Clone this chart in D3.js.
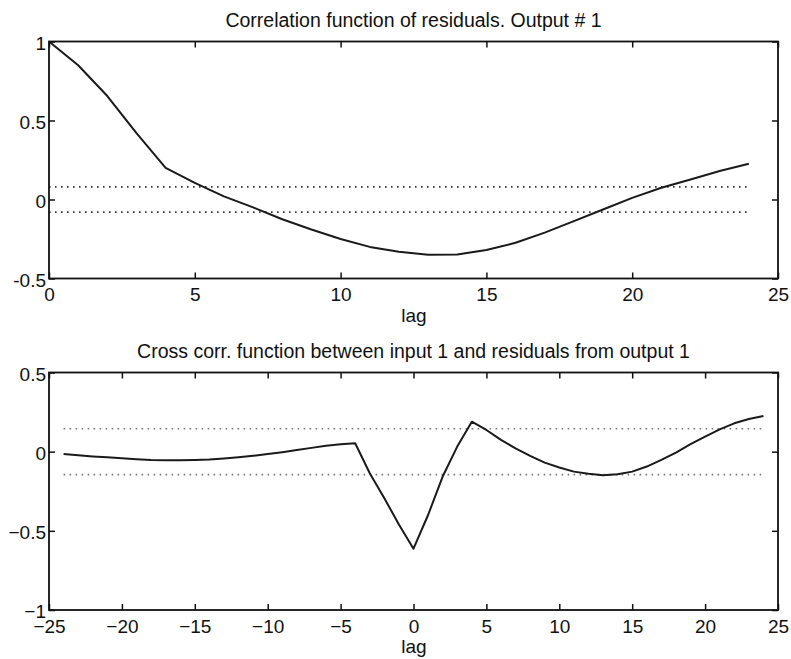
<!DOCTYPE html>
<html>
<head>
<meta charset="utf-8">
<script src="https://cdn.jsdelivr.net/npm/d3@7"></script>
<style>
  html, body { margin: 0; padding: 0; background: #fff; }
  svg { display: block; }
  text { font-family: "Liberation Sans", Arial, Helvetica, sans-serif; fill: #111; }
</style>
</head>
<body>
<svg id="chart" width="791" height="659"></svg>
<script>
// ---- Data ----
const autoTitle = "Correlation function of residuals. Output # 1";
const crossTitle = "Cross corr. function between input 1 and residuals from output 1";
const xLabel = "lag";

const autoLags = [0,1,2,3,4,5,6,7,8,9,10,11,12,13,14,15,16,17,18,19,20,21,22,23,24];
const autoValues = [1.0,0.85,0.655,0.42,0.2,0.105,0.02,-0.05,-0.125,-0.19,-0.25,-0.3,-0.33,-0.35,-0.348,-0.32,-0.274,-0.21,-0.137,-0.063,0.01,0.074,0.127,0.18,0.226];
const autoConf = 0.08;
const autoXTicks = [0,5,10,15,20,25];
const autoYTicks = [-0.5,0,0.5,1];
const autoYTickLabels = ["-0.5","0","0.5","1"];

const crossLags = [-24,-23,-22,-21,-20,-19,-18,-17,-16,-15,-14,-13,-12,-11,-10,-9,-8,-7,-6,-5,-4,-3,-2,-1,0,1,2,3,4,5,6,7,8,9,10,11,12,13,14,15,16,17,18,19,20,21,22,23,24];
const crossValues = [-0.015,-0.022,-0.03,-0.036,-0.042,-0.048,-0.053,-0.054,-0.054,-0.053,-0.05,-0.043,-0.035,-0.026,-0.015,-0.003,0.01,0.024,0.038,0.047,0.053,-0.136,-0.294,-0.46,-0.613,-0.4,-0.157,0.032,0.189,0.137,0.074,0.021,-0.027,-0.069,-0.1,-0.126,-0.14,-0.149,-0.142,-0.126,-0.094,-0.052,-0.006,0.047,0.095,0.141,0.179,0.206,0.225];
const crossConf = 0.145;
const crossXTicks = [-25,-20,-15,-10,-5,0,5,10,15,20,25];
const crossXTickLabels = ["\u221225","\u221220","\u221215","\u221210","\u22125","0","5","10","15","20","25"];
const crossYTicks = [-1,-0.5,0,0.5];
const crossYTickLabels = ["\u22121","\u22120.5","0","0.5"];

// ---- Drawing ----
const svg = d3.select("#chart");
const FS = 19;

function panel(opts) {
  const x = d3.scaleLinear().domain(opts.xDomain).range([49, 778]);
  const y = d3.scaleLinear().domain(opts.yDomain).range([opts.bottom, opts.top]);
  const g = svg.append("g");

  // title
  g.append("text").attr("x", 413.5).attr("y", opts.titleY)
    .attr("text-anchor", "middle").style("font-size", "19.5px").text(opts.title);

  // confidence lines
  [opts.conf, -opts.conf].forEach(c => {
    g.append("path")
      .datum(opts.confRange)
      .attr("d", d3.line().x(d => x(d)).y(() => y(c)))
      .attr("fill", "none").attr("stroke", opts.dotColor)
      .attr("stroke-width", 1.6).attr("stroke-dasharray", "1.6,4.4");
  });

  // curve
  g.append("path")
    .datum(opts.lags.map((l, i) => [l, opts.values[i]]))
    .attr("d", d3.line().x(d => x(d[0])).y(d => y(d[1])))
    .attr("fill", "none").attr("stroke", "#1a1a1a").attr("stroke-width", 2)
    .attr("stroke-linejoin", "round");

  // axes
  const tick = -6;
  const ax = g.append("g").attr("transform", `translate(0,${opts.bottom})`)
    .call(d3.axisBottom(x).tickValues(opts.xTicks).tickSize(tick).tickSizeOuter(0)
      .tickPadding(opts.xPad).tickFormat((d, i) => opts.xTickLabels[i]));
  const axT = g.append("g").attr("transform", `translate(0,${opts.top})`)
    .call(d3.axisTop(x).tickValues(opts.xTicks).tickSize(tick).tickSizeOuter(0).tickFormat(""));
  const ayL = g.append("g").attr("transform", `translate(49,0)`)
    .call(d3.axisLeft(y).tickValues(opts.yTicks).tickSize(tick).tickSizeOuter(0)
      .tickPadding(3).tickFormat((d, i) => opts.yTickLabels[i]));
  const ayR = g.append("g").attr("transform", `translate(778,0)`)
    .call(d3.axisRight(y).tickValues(opts.yTicks).tickSize(tick).tickSizeOuter(0).tickFormat(""));

  [ax, axT, ayL, ayR].forEach(a => {
    a.select(".domain").remove();
    a.selectAll("line").attr("stroke", "#111").attr("stroke-width", 1.5);
    a.selectAll("text").style("font-size", FS + "px").attr("fill", "#111");
  });
  ayL.selectAll("text").attr("dy", "0.42em");

  // frame
  g.append("rect").attr("x", 49).attr("y", opts.top)
    .attr("width", 778 - 49).attr("height", opts.bottom - opts.top)
    .attr("fill", "none").attr("stroke", "#111").attr("stroke-width", 1.8);

  // x label
  g.append("text").attr("x", 414).attr("y", opts.labelY)
    .attr("text-anchor", "middle").style("font-size", FS + "px").text(xLabel);
}

panel({
  title: autoTitle, titleY: 26.5,
  xDomain: [0, 25], yDomain: [-0.5, 1], top: 41.5, bottom: 278.5,
  lags: autoLags, values: autoValues, conf: autoConf, confRange: [autoLags[0], autoLags[autoLags.length - 1]],
  dotColor: "#333",
  xTicks: autoXTicks, xTickLabels: autoXTicks.map(String), xPad: 9,
  yTicks: autoYTicks, yTickLabels: autoYTickLabels,
  labelY: 321.5
});

panel({
  title: crossTitle, titleY: 357.5,
  xDomain: [-25, 25], yDomain: [-1, 0.5], top: 372.5, bottom: 610,
  lags: crossLags, values: crossValues, conf: crossConf, confRange: [crossLags[0], crossLags[crossLags.length - 1]],
  dotColor: "#777",
  xTicks: crossXTicks, xTickLabels: crossXTickLabels, xPad: 10,
  yTicks: crossYTicks, yTickLabels: crossYTickLabels,
  labelY: 653
});
</script>
</body>
</html>
